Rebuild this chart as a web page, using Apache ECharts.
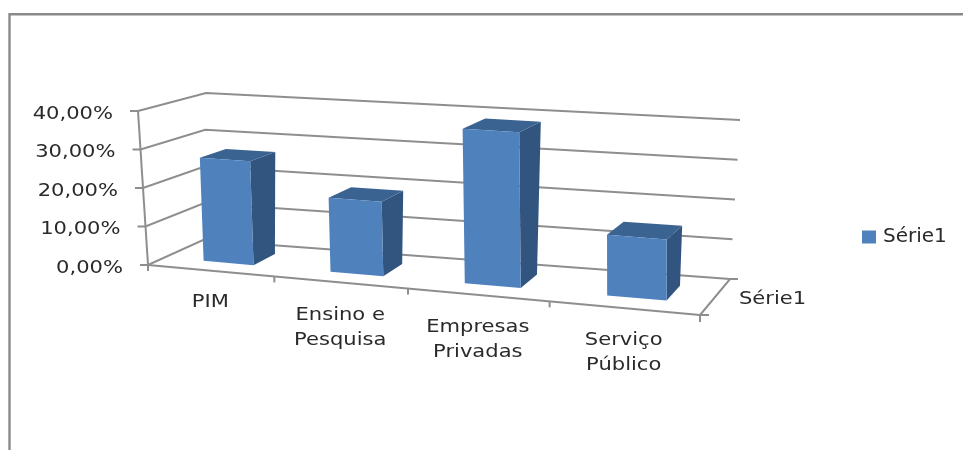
<!DOCTYPE html>
<html>
<head>
<meta charset="utf-8">
<style>html,body{margin:0;padding:0;background:#fff}#c{width:963px;height:450px}</style>
<script src="https://cdn.jsdelivr.net/npm/echarts@6/dist/echarts.min.js"></script>
</head>
<body>
<div id="c"></div>
<script>
// Chart data
const seriesName = 'Série1';
const categories = ['PIM', 'Ensino e\nPesquisa', 'Empresas\nPrivadas', 'Serviço\nPúblico'];
const values = [27, 19, 39, 15];
const tickValues = [0, 10, 20, 30, 40];
const tickLabels = ['0,00%', '10,00%', '20,00%', '30,00%', '40,00%'];

// Screen corners of the 3D plot box
const box = {
  flb: [148, 265], flt: [138, 111], frb: [700, 315], frt: [697, 149],
  blb: [203, 240], blt: [206, 93], brb: [730, 279], brt: [740, 120]
};
const perspective = 1.123;        // foreshortening along the category axis
const barDepth = [0.3, 0.72];     // front and back of each bar along the depth axis
const barFill = 0.4;              // share of a category cell taken by the bar
const barShift = 0.02;            // small sideways offset of the bars inside their cells

const colors = { front: '#4f81bd', side: '#31557f', top: '#3b6392', line: '#8e8e8e', text: '#2a2a2a', frame: '#8a8a8a' };
const font = '"DejaVu Sans", sans-serif';
const textScale = 1.17;

const mix = (a, b, k) => [a[0] + (b[0] - a[0]) * k, a[1] + (b[1] - a[1]) * k];

// Maps a grid pixel and a depth (0 front, 1 back) onto the perspective box
function project(api, cs, u, v, w) {
  const p = api.coord([u, v]);
  const s = (p[0] - cs.x) / cs.width;
  const t = (cs.y + cs.height - p[1]) / cs.height;
  const sp = s / (s + (1 - s) * perspective);
  const bottom = mix(mix(box.flb, box.frb, sp), mix(box.blb, box.brb, sp), w);
  const top = mix(mix(box.flt, box.frt, sp), mix(box.blt, box.brt, sp), w);
  return mix(bottom, top, t);
}

const stroke = { stroke: colors.line, lineWidth: 2, fill: null };
const polyline = pts => ({ type: 'polyline', shape: { points: pts }, style: stroke, silent: true });
const label = (x, y, text, align, verticalAlign) => ({
  type: 'text', x, y, scaleX: textScale, silent: true,
  style: { text, x: 0, y: 0, align, verticalAlign, fontFamily: font, fontSize: 18, lineHeight: 25, fill: colors.text }
});

// Walls, floor, ticks and value labels
function renderValueLines(params, api) {
  const cs = params.coordSys, v = api.value(0);
  const a = project(api, cs, 0, v, 0), b = project(api, cs, 0, v, 1), c = project(api, cs, 4, v, 1);
  return {
    type: 'group',
    children: [
      polyline([[a[0] - 8, a[1]], a, b, c]),
      label(a[0] - 25, a[1] + 3, tickLabels[params.dataIndex], 'right', 'middle')
    ]
  };
}

function renderFloor(params, api) {
  const cs = params.coordSys;
  const p = (u, v, w) => project(api, cs, u, v, w);
  const fr = p(4, 0, 0), br = p(4, 0, 1);
  const children = [
    polyline([p(0, 40, 0), p(0, 0, 0)]),
    polyline([p(0, 0, 0), fr]),
    polyline([[br[0] + 8, br[1]], br, fr, [fr[0] + 9, fr[1]]])
  ];
  categories.forEach((_, i) => {
    const t = p(i, 0, 0);
    children.push(polyline([t, [t[0], t[1] + 6]]));
  });
  children.push(polyline([fr, [fr[0], fr[1] + 7]]));
  const mid = mix(fr, br, 0.5);
  children.push(label(mid[0] + 24, mid[1] + 2, seriesName, 'left', 'middle'));
  return { type: 'group', children };
}

// One bar: front, side and top faces
function renderBar(params, api) {
  const cs = params.coordSys, i = api.value(0), val = api.value(1);
  const u0 = i + barShift + (1 - barFill) / 2, u1 = i + barShift + (1 + barFill) / 2;
  const [w0, w1] = barDepth;
  const p = (u, v, w) => project(api, cs, u, v, w);
  const face = (pts, fill) => ({ type: 'polygon', shape: { points: pts }, style: { fill } });
  return {
    type: 'group',
    children: [
      face([p(u1, 0, w0), p(u1, 0, w1), p(u1, val, w1), p(u1, val, w0)], colors.side),
      face([p(u0, val, w0), p(u1, val, w0), p(u1, val, w1), p(u0, val, w1)], colors.top),
      face([p(u0, 0, w0), p(u1, 0, w0), p(u1, val, w0), p(u0, val, w0)], colors.front)
    ]
  };
}

// Category labels under the front edge of the floor
function renderCategory(params, api) {
  const cs = params.coordSys, i = api.value(0);
  const a = project(api, cs, i + 0.5, 0, 0);
  return label(a[0], a[1] + (categories[i].includes('\n') ? 20 : 19), categories[i], 'center', 'top');
}

const chart = echarts.init(document.getElementById('c'), null, { renderer: 'canvas' });
chart.setOption({
  animation: false,
  backgroundColor: '#fff',
  color: [colors.front],
  grid: { left: box.flb[0], top: box.flt[1], width: box.frb[0] - box.flb[0], height: box.flb[1] - box.flt[1] },
  xAxis: { type: 'value', min: 0, max: categories.length, show: false },
  yAxis: { type: 'value', min: 0, max: 40, interval: 10, show: false },
  legend: {
    data: [{ name: seriesName, icon: 'rect', itemStyle: { color: colors.front } }],
    left: 857, top: 222, itemWidth: 14, itemHeight: 13,
    textStyle: { fontFamily: font, fontSize: 20, color: colors.text, padding: [0, 0, 0, 2] }
  },
  graphic: [{
    type: 'polyline', silent: true,
    shape: { points: [[9.5, 450], [9.5, 14.2], [963, 14.2]] },
    style: { stroke: colors.frame, lineWidth: 2.4, fill: null }
  }],
  series: [
    { type: 'custom', name: 'Eixo de valores', silent: true, clip: false, renderItem: renderValueLines, data: tickValues.map(v => [v]), encode: { y: 0 }, z: 1 },
    { type: 'custom', name: 'Base', silent: true, clip: false, renderItem: renderFloor, data: [[0]], z: 1 },
    { type: 'custom', name: seriesName, clip: false, renderItem: renderBar, data: values.map((v, i) => [i, v]), encode: { x: 0, y: 1 }, z: 2 },
    { type: 'custom', name: 'Categorias', silent: true, clip: false, renderItem: renderCategory, data: categories.map((_, i) => [i]), z: 3 }
  ]
});
</script>
</body>
</html>
